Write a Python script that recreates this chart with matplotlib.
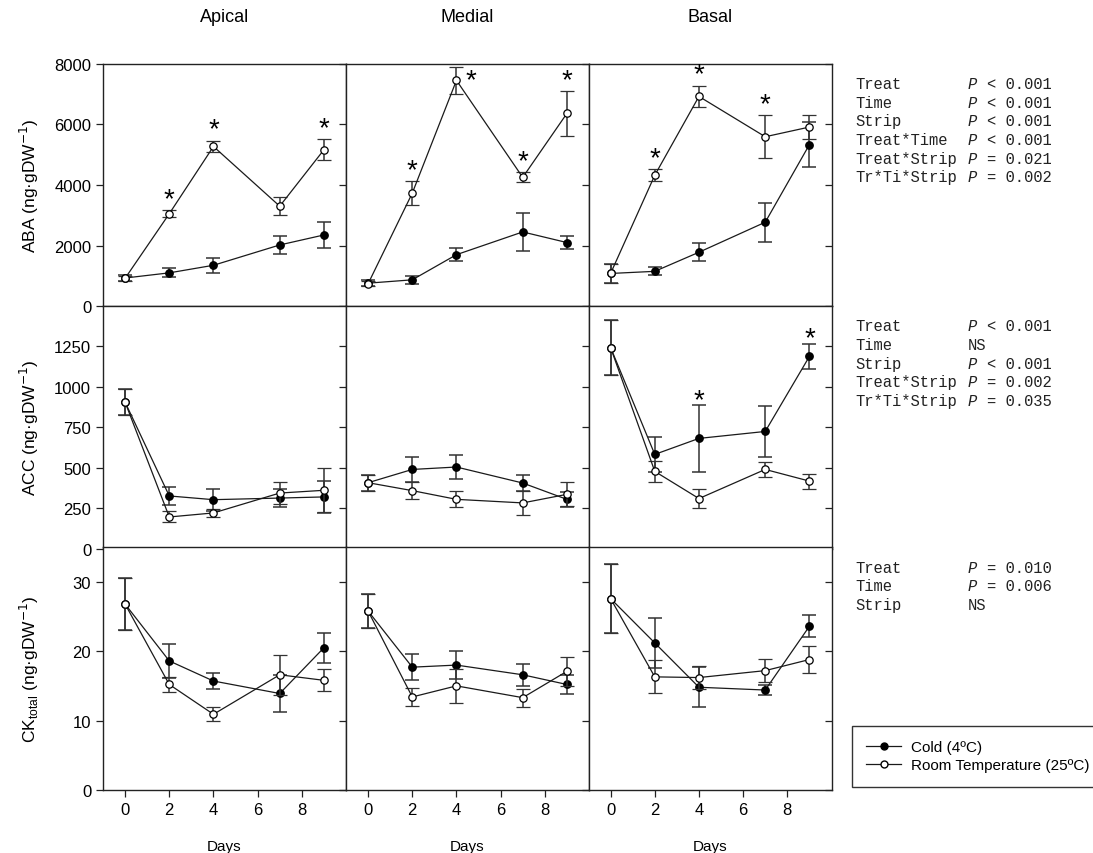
import matplotlib
matplotlib.use("Agg")
import matplotlib.pyplot as plt
from matplotlib.lines import Line2D

plt.rcParams['font.family'] = ['Liberation Sans', 'DejaVu Sans']

days = [0, 2, 4, 7, 9]
strips = ["Apical", "Medial", "Basal"]

# ABA (ng gDW-1): mean and SE per strip
aba_cold = [[930, 1100, 1350, 2020, 2350],
            [760, 870, 1700, 2450, 2100],
            [1080, 1150, 1780, 2770, 5330]]
aba_cold_se = [[100, 150, 240, 290, 430],
               [100, 140, 220, 640, 200],
               [310, 130, 300, 650, 750]]
aba_rt = [[920, 3050, 5270, 3300, 5160],
          [740, 3730, 7450, 4250, 6360],
          [1080, 4320, 6920, 5590, 5910]]
aba_rt_se = [[80, 120, 190, 300, 340],
             [90, 400, 440, 165, 740],
             [315, 200, 360, 715, 400]]
aba_sig = [[2, 4, 9], [2, 4, 7, 9], [2, 4, 7]]

# ACC (ng gDW-1)
acc_cold = [[905, 325, 302, 312, 319],
            [407, 489, 504, 405, 304],
            [1243, 582, 681, 724, 1188]]
acc_cold_se = [[80, 57, 67, 57, 97],
               [50, 79, 74, 50, 48],
               [171, 110, 205, 156, 79]]
acc_rt = [[905, 195, 220, 343, 360],
          [407, 358, 304, 282, 335],
          [1243, 477, 309, 489, 417]]
acc_rt_se = [[80, 34, 23, 70, 136],
             [50, 53, 49, 74, 74],
             [171, 67, 61, 45, 46]]
acc_sig = [[], [], [4, 9]]

# total cytokinins (ng gDW-1)
ck_cold = [[26.8, 18.6, 15.7, 13.9, 20.5],
           [25.8, 17.7, 18.0, 16.6, 15.2],
           [27.6, 21.2, 14.8, 14.4, 23.6]]
ck_cold_se = [[3.7, 2.5, 1.1, 2.7, 2.15],
              [2.4, 1.9, 2.0, 1.55, 1.4],
              [5.0, 3.6, 2.9, 0.7, 1.6]]
ck_rt = [[26.8, 15.2, 10.9, 16.6, 15.8],
         [25.8, 13.4, 15.0, 13.3, 17.1],
         [27.6, 16.3, 16.2, 17.2, 18.8]]
ck_rt_se = [[3.7, 1.15, 1.0, 2.9, 1.6],
            [2.4, 1.25, 2.45, 1.3, 2.1],
            [5.0, 2.4, 1.7, 1.7, 2.0]]
ck_sig = [[], [], []]

# ANOVA results per hormone
aba_terms = ["Treat", "Time", "Strip", "Treat*Time", "Treat*Strip", "Tr*Ti*Strip"]
aba_pvals = ["< 0.001", "< 0.001", "< 0.001", "< 0.001", "= 0.021", "= 0.002"]
acc_terms = ["Treat", "Time", "Strip", "Treat*Strip", "Tr*Ti*Strip"]
acc_pvals = ["< 0.001", "NS", "< 0.001", "= 0.002", "= 0.035"]
ck_terms = ["Treat", "Time", "Strip"]
ck_pvals = ["= 0.010", "= 0.006", "NS"]

rows = [
    dict(cold=aba_cold, cold_se=aba_cold_se, rt=aba_rt, rt_se=aba_rt_se, sig=aba_sig,
         ylim=8000, ticks=[0, 2000, 4000, 6000, 8000], star_off=17,
         ylabel="ABA (ng·gDW$^{-1}$)", terms=aba_terms, pvals=aba_pvals),
    dict(cold=acc_cold, cold_se=acc_cold_se, rt=acc_rt, rt_se=acc_rt_se, sig=acc_sig,
         ylim=1500, ticks=[0, 250, 500, 750, 1000, 1250], star_off=11,
         ylabel="ACC (ng·gDW$^{-1}$)", terms=acc_terms, pvals=acc_pvals),
    dict(cold=ck_cold, cold_se=ck_cold_se, rt=ck_rt, rt_se=ck_rt_se, sig=ck_sig,
         ylim=35, ticks=[0, 10, 20, 30], star_off=11,
         ylabel="CK$_{\\mathregular{total}}$ (ng·gDW$^{-1}$)", terms=ck_terms, pvals=ck_pvals),
]

W, H = 1093, 854
fig = plt.figure(figsize=(W / 100, H / 100), dpi=100)

col_left = [103, 346, 588.5]
col_w = 243
row_top = [64.7, 307, 548.3]
row_h = 242.5
line_col = '#1a1a1a'
err_col = '#333333'
mono = dict(family='Liberation Mono', fontsize=11.2, va='center', color='#222222')

for r, row in enumerate(rows):
    for c in range(3):
        ax = fig.add_axes([col_left[c] / W, 1 - (row_top[r] + row_h) / H, col_w / W, row_h / H])
        ax.set_xlim(-1, 10)
        ax.set_ylim(0, row['ylim'])
        ax.errorbar(days, row['cold'][c], yerr=row['cold_se'][c], fmt='-o', color=line_col,
                    ecolor=err_col, elinewidth=1.1, capsize=5, capthick=1.1, lw=0.9,
                    ms=5.3, mfc='black', mec='black', zorder=3)
        ax.errorbar(days, row['rt'][c], yerr=row['rt_se'][c], fmt='-o', color=line_col,
                    ecolor=err_col, elinewidth=1.1, capsize=5, capthick=1.1, lw=0.9,
                    ms=5.3, mfc='white', mec='black', mew=0.9, zorder=4)
        # significance marks above the higher error bar, or beside the point near the top
        for d in row['sig'][c]:
            i = days.index(d)
            top = max(row['cold'][c][i] + row['cold_se'][c][i],
                      row['rt'][c][i] + row['rt_se'][c][i])
            y_px = ax.transData.transform((d, top))[1] + row['star_off']
            y_lim_px = ax.transData.transform((d, row['ylim']))[1]
            if y_px > y_lim_px - 3:
                ax.annotate('*', xy=(d, max(row['cold'][c][i], row['rt'][c][i])),
                            xytext=(14, 0), textcoords='offset pixels',
                            ha='center', va='center', fontsize=20)
            else:
                ax.annotate('*', xy=(d, top), xytext=(0, row['star_off'] - 6),
                            textcoords='offset pixels', ha='center', va='center', fontsize=20)

        ax.set_xticks([0, 2, 4, 6, 8])
        ax.set_yticks(row['ticks'])
        for s in ax.spines.values():
            s.set_color('#222222')
            s.set_linewidth(1.0)
        ax.tick_params(direction='out', length=5, width=0.9, color='#222222', labelsize=12)
        if c == 2:
            ax.tick_params(axis='y', right=True)
            for t in ax.yaxis.get_ticklines()[1::2]:
                t.set_marker(0)  # right-side ticks point inward
        if c == 0:
            ax.set_ylabel(row['ylabel'], fontsize=12.5)
            ax.yaxis.set_label_coords(-0.255, 0.5)
        else:
            ax.set_yticklabels([])
        if r == 2:
            ax.set_xlabel("Days", fontsize=11, labelpad=16)
        else:
            ax.set_xticklabels([])
        if r == 0:
            fig.text((col_left[c] + col_w / 2) / W, 1 - 18 / H, strips[c],
                     ha='center', va='center', fontsize=13)

    # ANOVA table to the right of each row
    char_w = 9.4
    for k, (term, pv) in enumerate(zip(row['terms'], row['pvals'])):
        y = 1 - (row_top[r] + 20 + 18.6 * k) / H
        fig.text(855 / W, y, term, **mono)
        xp = (855 + 12 * char_w) / W
        if pv == "NS":
            fig.text(xp, y, "NS", **mono)
        else:
            fig.text(xp, y, "P", style='italic', **mono)
            fig.text(xp + 2 * char_w / W, y, pv, **mono)

handles = [Line2D([], [], color=line_col, lw=0.9, marker='o', ms=5, mfc='black', mec='black'),
           Line2D([], [], color=line_col, lw=0.9, marker='o', ms=5, mfc='white', mec='black')]
leg = fig.legend(handles, ["Cold (4ºC)", "Room Temperature (25ºC)"], loc='upper left',
                 bbox_to_anchor=(851.7 / W, 1 - 726.7 / H), borderaxespad=0, fontsize=11,
                 frameon=True, fancybox=False, edgecolor='black', handlelength=2.3,
                 handletextpad=0.6, labelspacing=0.25, borderpad=0.95)
leg.get_frame().set_linewidth(1.0)

fig.savefig("out.png", dpi=100)
